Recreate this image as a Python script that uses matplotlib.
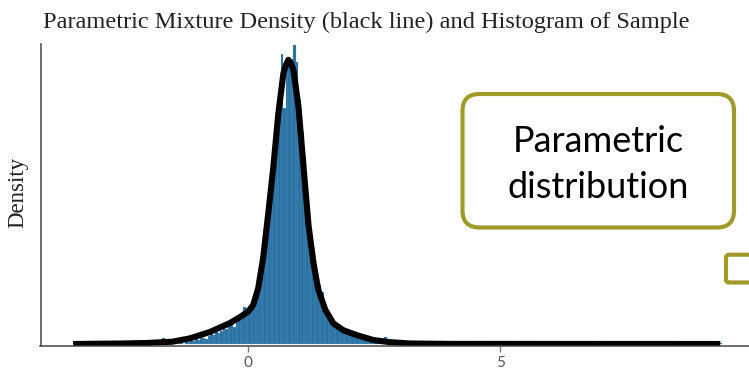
import matplotlib
matplotlib.use('Agg')
import matplotlib.pyplot as plt
from matplotlib.patches import FancyBboxPatch

# histogram of the sample (bin width 0.05, first bin starts at -2.0)
bin_start = -2.0
bin_width = 0.05
hist_heights = [
    0, 0, 0, 0.008, 0, 0, 0.022, 0, 0.004, 0,
    0.008, 0, 0.004, 0.008, 0, 0.012, 0.008, 0.016, 0.012, 0.02,
    0.016, 0.028, 0.024, 0.02, 0.032, 0.04, 0.036, 0.048, 0.044, 0.052,
    0.06, 0.056, 0.068, 0.072, 0.064, 0.084, 0.092, 0.104, 0.144, 0.14,
    0.124, 0.136, 0.168, 0.192, 0.228, 0.288, 0.34, 0.476, 0.5, 0.6,
    0.7, 0.8, 0.92, 1.12, 0.91, 1.06, 1.08, 1.1, 1.155, 1.09,
    0.94, 0.82, 0.72, 0.56, 0.44, 0.36, 0.3, 0.25, 0.228, 0.2,
    0.158, 0.13, 0.11, 0.09, 0.076, 0.068, 0.06, 0.056, 0.048, 0.044,
    0.048, 0.036, 0.032, 0.036, 0.028, 0.024, 0.024, 0.02, 0.016, 0.012,
    0.016, 0.008, 0.012, 0.008, 0.028, 0.004, 0.008, 0.004, 0, 0.004,
    0.016, 0, 0.004,
]
# lone bars far out in the tails
outlier_x = [-3.47, 9.35]
outlier_h = [0.006, 0.004]

# fitted mixture density (black line)
dens_x = [-3.47, -2.5, -2.0, -1.5, -1.15, -0.75, -0.36, -0.16, 0.0, 0.1,
          0.2, 0.3, 0.4, 0.5, 0.6, 0.7, 0.75, 0.8, 0.85, 0.9,
          1.0, 1.1, 1.2, 1.3, 1.39, 1.53, 1.69, 1.89, 2.16, 2.49,
          2.82, 3.21, 4.0, 9.37]
dens_y = [0.0, 0.002, 0.004, 0.009, 0.022, 0.047, 0.081, 0.104, 0.125, 0.15,
          0.215, 0.334, 0.504, 0.681, 0.89, 1.044, 1.077, 1.097, 1.084, 1.058,
          0.915, 0.683, 0.456, 0.31, 0.212, 0.133, 0.08, 0.053, 0.034, 0.015,
          0.007, 0.002, 0.0005, 0.0]

xticks = [0, 5]
title = 'Parametric Mixture Density (black line) and Histogram of Sample'
box_lines = ['Parametric', 'distribution']

W, H = 749, 369
fig = plt.figure(figsize=(W / 100, H / 100), dpi=100)
ax = fig.add_axes([40.5 / W, (H - 346) / H, (752 - 40.5) / W, (346 - 44) / H])

lefts = [bin_start + i * bin_width for i in range(len(hist_heights))]
ax.bar(lefts, hist_heights, width=bin_width, align='edge',
       color='#246fa2', edgecolor='#8db6d6', linewidth=0.15)
ax.bar(outlier_x, outlier_h, width=bin_width, align='edge', color='#246fa2')
ax.plot(dens_x, dens_y, color='black', lw=4.4, solid_capstyle='butt', solid_joinstyle='round')

ax.set_xlim(-4.12, 10.0)
ax.set_ylim(-0.0077, 1.158)
ax.set_xticks(xticks)
ax.set_xticklabels([str(t) for t in xticks], family='Lato', fontsize=11, color='#555555')
ax.set_yticks([])
ax.tick_params(axis='x', length=4, width=1, color='#777777', pad=3)
for s in ['top', 'right']:
    ax.spines[s].set_visible(False)
for s in ['left', 'bottom']:
    ax.spines[s].set_color('#444444')
    ax.spines[s].set_linewidth(1.1)

fig.text(43 / W, 1 - 22 / H, title, family='Liberation Serif', fontsize=17.6,
         color='#222222', ha='left', va='center')
fig.text(18 / W, 1 - 192 / H, 'Density', family='Liberation Serif', fontsize=16.5,
         color='#222222', rotation=90, ha='center', va='center')

# overlay boxes drawn in pixel coordinates
ov = fig.add_axes([0, 0, 1, 1])
ov.set_xlim(0, W)
ov.set_ylim(H, 0)
ov.axis('off')
olive = '#a09b28'
ov.add_patch(FancyBboxPatch((462.5, 94), 734 - 462.5, 227.5 - 94,
                            boxstyle='round,pad=0,rounding_size=17',
                            fc='white', ec=olive, lw=3))
ov.add_patch(FancyBboxPatch((726, 254.7), 40, 282.5 - 254.7,
                            boxstyle='round,pad=0,rounding_size=3',
                            fc='white', ec=olive, lw=3, clip_on=False))
ov.text(598, 141, box_lines[0], family='Lato', fontsize=26, color='black',
        ha='center', va='center')
ov.text(598, 187, box_lines[1], family='Lato', fontsize=26, color='black',
        ha='center', va='center')

fig.savefig('out.png', dpi=100)
